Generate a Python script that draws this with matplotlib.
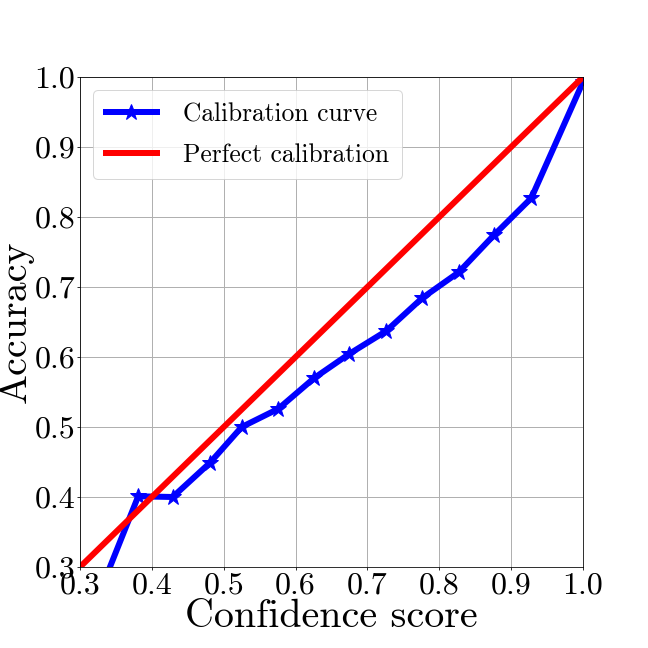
import matplotlib
matplotlib.use("Agg")
import matplotlib.pyplot as plt
import numpy as np

# reliability diagram values
confidence = [0.33, 0.381, 0.429, 0.481, 0.525, 0.576, 0.626, 0.674,
              0.726, 0.776, 0.827, 0.876, 0.928, 1.0]
accuracy = [0.27, 0.401, 0.400, 0.449, 0.500, 0.526, 0.570, 0.604,
            0.637, 0.684, 0.721, 0.774, 0.827, 0.993]
ticks = [0.3, 0.4, 0.5, 0.6, 0.7, 0.8, 0.9, 1.0]

plt.rcParams['font.family'] = 'cmr10'
plt.rcParams['mathtext.fontset'] = 'cm'
plt.rcParams['axes.unicode_minus'] = False

fig = plt.figure(figsize=(9, 9), dpi=72)
ax = fig.add_axes([80 / 648, 81 / 648, 503 / 648, 490 / 648])

ax.plot(confidence, accuracy, color='blue', marker='*', markersize=17,
        linewidth=6, label='Calibration curve')
ax.plot([0.3, 1.0], [0.3, 1.0], color='red', linewidth=6,
        label='Perfect calibration')

ax.set_xlim(0.3, 1.0)
ax.set_ylim(0.3, 1.0)
ax.set_xticks(ticks)
ax.set_yticks(ticks)
ax.set_xticklabels(['%.1f' % t for t in ticks])
ax.set_yticklabels(['%.1f' % t for t in ticks])
ax.tick_params(labelsize=32, length=3, pad=2)
ax.grid(True, color='#b0b0b0', linewidth=1)

ax.set_xlabel('Confidence score', fontsize=40, labelpad=0)
ax.set_ylabel('Accuracy', fontsize=40, labelpad=0)
ax.legend(loc='upper left', fontsize=25.5, labelspacing=0.65,
          handletextpad=1.05, borderpad=0.5)

fig.savefig('out.png', dpi=72)
